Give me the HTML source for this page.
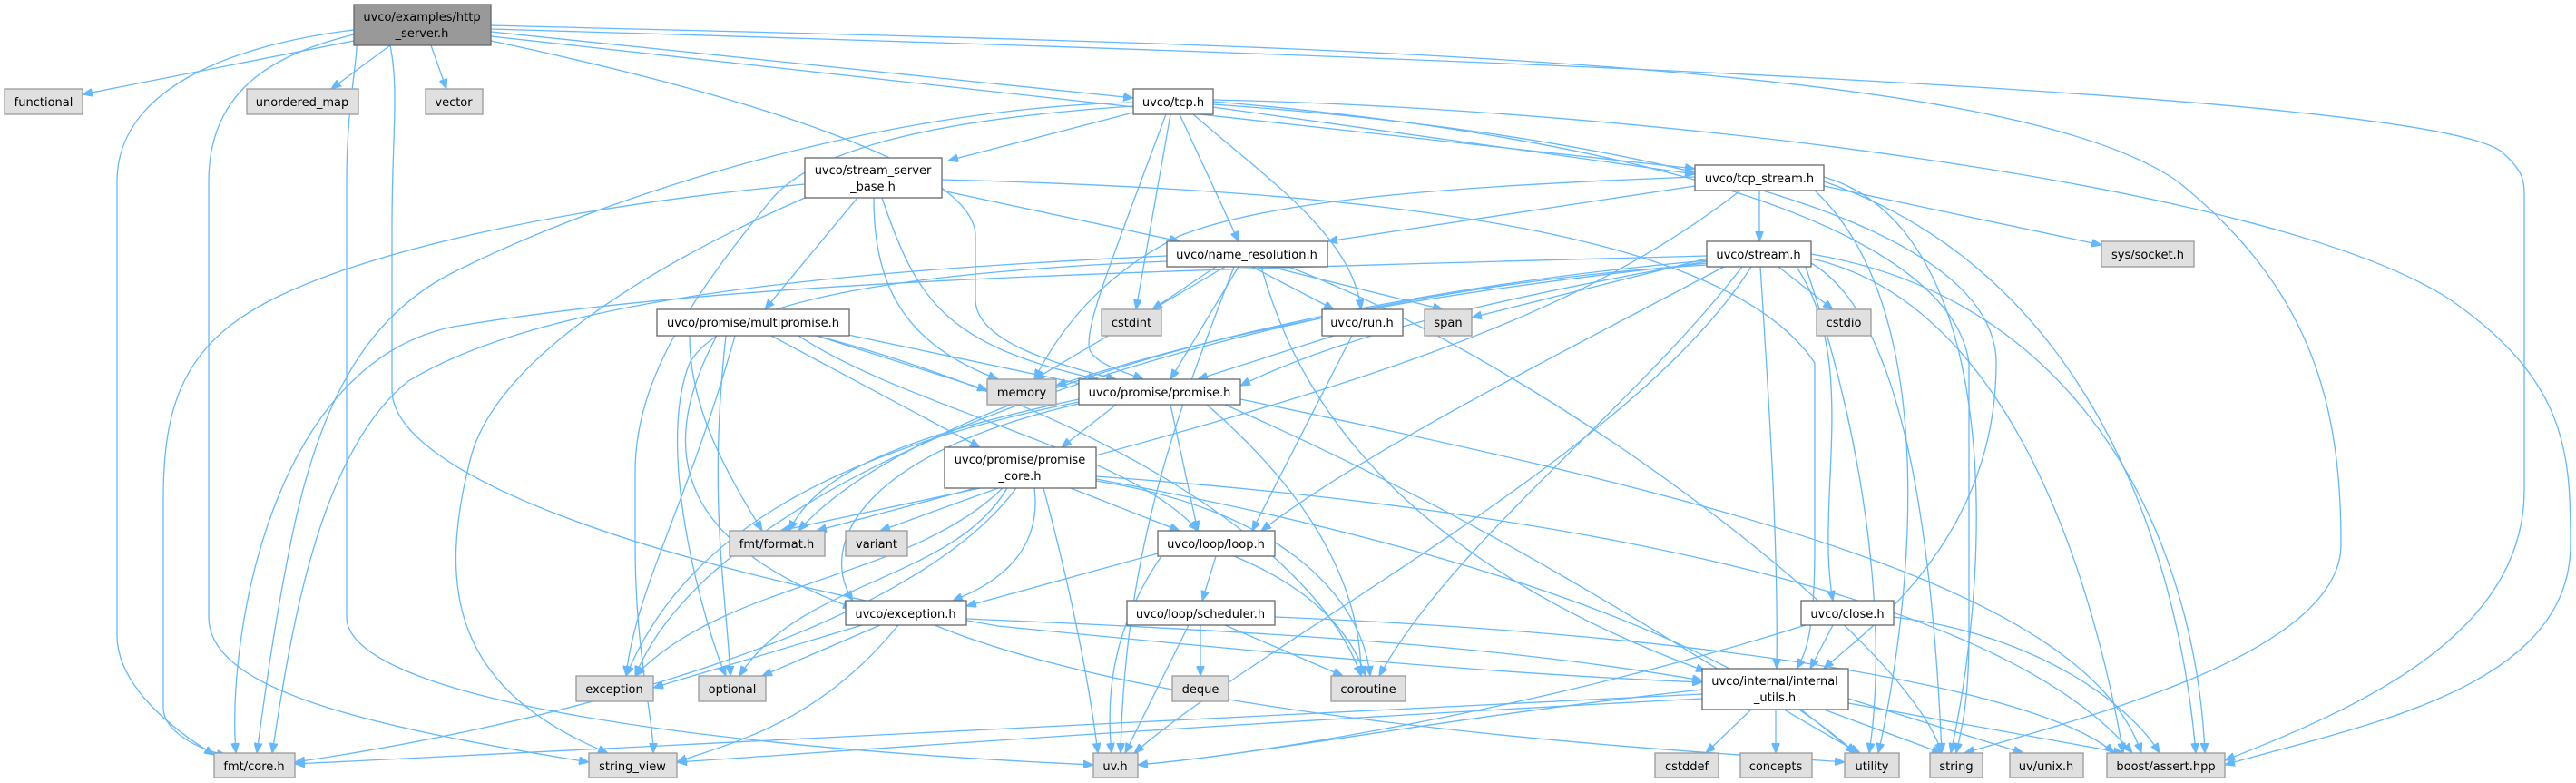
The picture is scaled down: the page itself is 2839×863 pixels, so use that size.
<!DOCTYPE html>
<html><head><meta charset="utf-8"><style>
html,body{margin:0;padding:0;background:#fff}
svg{display:block}
text{font-family:"DejaVu Sans","Liberation Sans",sans-serif;font-size:13px;fill:#000;text-anchor:middle}
.e{fill:none;stroke:#63b8ff;stroke-width:1.3}
.w{fill:#fff;stroke:#666;stroke-width:1.3}
.g{fill:#e0e0e0;stroke:#999;stroke-width:1.3}
.r{fill:#999;stroke:#666;stroke-width:1.3}
</style></head><body>
<svg width="2839" height="863" viewBox="0 0 2839 863" xmlns="http://www.w3.org/2000/svg">
<defs><marker id="a" markerWidth="11" markerHeight="9" refX="11" refY="4.5" orient="auto" markerUnits="userSpaceOnUse"><path d="M0,0 L11,4.5 L0,9z" fill="#63b8ff" stroke="#63b8ff"/></marker></defs>
<g class="e" marker-end="url(#a)">
<path d="M390,45 L91,104"/>
<path d="M430,50 L365,98"/>
<path d="M475,50 L492,98"/>
<path d="M541,35 L1249,108"/>
<path d="M390,33 C250,50 129,100 129,200 L129,700 C129,760 200,810 236,832"/>
<path d="M390,38 C300,60 230,100 230,200 L230,680 C230,760 400,800 649,840"/>
<path d="M390,42 C400,45 382,100 382,200 L382,680 C382,760 700,820 1205,843"/>
<path d="M430,50 C440,100 432,150 432,250 L432,430 C432,520 700,620 1100,690 C1500,730 1700,745 1876,752"/>
<path d="M541,45 C800,100 1075,180 1075,260 L1075,330 C1075,380 1180,405 1230,418"/>
<path d="M541,40 L1868,186"/>
<path d="M541,28 C1400,50 2200,60 2400,200 C2550,320 2580,450 2580,600 C2580,720 2300,790 2165,830"/>
<path d="M541,32 C1500,60 2700,100 2760,170 C2782,190 2782,200 2782,220 L2782,540 C2782,700 2600,780 2452,838"/>
<path d="M1249,124 L1045,177"/>
<path d="M1300,126 L1365,266"/>
<path d="M1290,126 L1252,341"/>
<path d="M1285,126 C1220,300 1200,350 1200,380 C1200,400 1240,410 1260,418"/>
<path d="M1315,126 C1400,200 1490,260 1500,341"/>
<path d="M1337,118 L1868,192"/>
<path d="M1249,113 C1000,118 700,200 500,300 C400,350 350,450 320,600 C300,700 290,780 283,830"/>
<path d="M1249,117 C1050,130 900,160 850,220 C760,330 700,420 700,520 L700,600 C700,720 720,790 720,830"/>
<path d="M1337,110 C1800,120 2500,200 2700,330 C2830,420 2833,500 2833,600 C2833,760 2600,800 2452,843"/>
<path d="M1337,112 C1800,150 2150,250 2170,400 L2170,700 C2170,780 2160,810 2156,830"/>
<path d="M1337,115 C1700,140 2200,220 2200,400 C2200,600 2050,700 2010,737"/>
<path d="M945,218 L843,341"/>
<path d="M963,218 C963,320 1000,380 1100,418"/>
<path d="M972,218 C1010,330 1040,380 1210,418"/>
<path d="M1038,210 L1300,266"/>
<path d="M887,203 C600,230 400,280 300,330 C200,380 180,450 180,550 L180,780 C180,810 230,830 250,832"/>
<path d="M887,218 C700,300 550,400 520,500 C480,650 500,760 670,830"/>
<path d="M1038,198 C1500,210 1900,250 2000,400 L2000,600 C2000,700 1990,720 1980,737"/>
<path d="M1340,294 L1270,341"/>
<path d="M1365,294 L1290,418"/>
<path d="M1380,294 L1470,341"/>
<path d="M1400,294 L1590,341"/>
<path d="M1350,294 L1140,418"/>
<path d="M1420,294 C1700,400 2100,700 2140,830"/>
<path d="M1390,294 C1420,400 1500,600 1880,740"/>
<path d="M1360,294 C1300,450 1240,600 1235,830"/>
<path d="M1286,282 C900,300 600,330 450,420 C350,500 320,700 300,830"/>
<path d="M1286,288 C1000,300 800,330 760,400 C720,500 780,700 800,745"/>
<path d="M1939,210 L1939,266"/>
<path d="M2010,205 L2316,270"/>
<path d="M1868,205 L1463,266"/>
<path d="M1868,195 C1600,205 1400,220 1300,260 C1200,310 1160,380 1140,418"/>
<path d="M1918,210 C1700,380 1400,450 900,585"/>
<path d="M2010,195 C2200,250 2200,600 2150,830"/>
<path d="M2010,200 C2300,300 2400,600 2420,830"/>
<path d="M2000,210 C2150,350 2100,700 2070,830"/>
<path d="M1960,294 L2020,341"/>
<path d="M1881,285 L1622,350"/>
<path d="M1881,290 C1500,330 1300,380 1164,425"/>
<path d="M1881,288 C1700,320 1500,360 1367,425"/>
<path d="M1900,294 C1700,400 1500,500 1390,585"/>
<path d="M1920,294 C1800,450 1600,600 1520,745"/>
<path d="M1930,294 C1800,500 1400,700 1250,830"/>
<path d="M1980,294 C2050,400 2000,550 2020,662"/>
<path d="M1940,294 C1950,450 1960,600 1958,737"/>
<path d="M1881,282 C1200,300 800,310 500,360 C300,400 250,700 260,830"/>
<path d="M1881,292 C1400,320 800,500 700,745"/>
<path d="M1881,287 C1400,330 1000,450 880,585"/>
<path d="M1996,290 C2100,350 2130,600 2140,830"/>
<path d="M1996,285 C2200,330 2300,600 2340,830"/>
<path d="M1996,280 C2300,330 2420,600 2430,830"/>
<path d="M1990,294 C2060,500 2080,700 2060,830"/>
<path d="M1470,370 L1320,418"/>
<path d="M1490,370 L1380,585"/>
<path d="M1230,446 L1170,493"/>
<path d="M1189,440 C1000,480 900,520 870,585"/>
<path d="M1189,445 C950,500 900,600 940,662"/>
<path d="M1189,443 C900,500 750,600 690,745"/>
<path d="M1290,446 L1320,585"/>
<path d="M1330,446 C1450,550 1500,650 1500,745"/>
<path d="M1367,440 C1900,550 2300,650 2360,830"/>
<path d="M1350,446 C1700,600 1900,750 2050,830"/>
<path d="M900,370 L1088,430"/>
<path d="M930,368 L1200,425"/>
<path d="M850,370 L1080,493"/>
<path d="M880,370 C1000,450 1250,500 1320,585"/>
<path d="M900,370 C1200,450 1450,600 1500,745"/>
<path d="M790,370 C720,500 750,600 940,670"/>
<path d="M810,370 C760,550 700,650 690,745"/>
<path d="M800,370 C780,550 800,650 805,745"/>
<path d="M760,370 C760,450 800,520 840,585"/>
<path d="M1080,538 L860,585"/>
<path d="M1100,538 L970,585"/>
<path d="M1180,538 L1300,585"/>
<path d="M1140,538 C1150,620 1080,650 1050,662"/>
<path d="M1105,538 C1000,640 800,640 700,745"/>
<path d="M1110,538 C1050,640 880,640 815,745"/>
<path d="M1150,538 C1180,650 1200,750 1210,830"/>
<path d="M1120,538 C1000,700 600,800 325,840"/>
<path d="M1208,530 C1400,560 1500,650 1510,745"/>
<path d="M1208,525 C1700,560 2200,650 2350,830"/>
<path d="M1208,528 C1600,600 1900,700 2045,830"/>
<path d="M1340,613 L1325,662"/>
<path d="M1276,610 L1065,668"/>
<path d="M1280,613 C1220,700 1220,780 1225,830"/>
<path d="M1360,613 C1450,650 1490,700 1505,745"/>
<path d="M950,689 L720,758"/>
<path d="M970,689 L840,745"/>
<path d="M990,689 C900,800 800,820 746,840"/>
<path d="M1065,682 C1500,700 1700,720 1876,750"/>
<path d="M1030,689 C1300,800 1900,830 2033,840"/>
<path d="M1323,689 L1323,745"/>
<path d="M1310,689 L1240,830"/>
<path d="M1350,689 L1480,745"/>
<path d="M1405,680 C1900,700 2250,760 2330,830"/>
<path d="M2020,689 L1995,737"/>
<path d="M1990,689 C1700,780 1400,830 1254,843"/>
<path d="M2087,680 C2250,700 2350,780 2380,830"/>
<path d="M1930,782 L1880,830"/>
<path d="M1957,782 L1957,830"/>
<path d="M1985,782 L2045,830"/>
<path d="M2010,782 L2140,830"/>
<path d="M2037,770 L2230,830"/>
<path d="M2037,775 L2340,830"/>
<path d="M1876,760 C1600,790 1400,830 1254,843"/>
<path d="M1876,765 C1200,800 600,830 325,842"/>
<path d="M1876,770 C1300,800 900,830 746,840"/>
</g>
<rect class="r" x="390" y="5" width="151" height="45"/><text x="465" y="23">uvco/examples/http</text><text x="465" y="41">_server.h</text>
<rect class="g" x="5" y="98" width="86" height="28"/><text x="48" y="117">functional</text>
<rect class="g" x="272" y="98" width="123" height="28"/><text x="333" y="117">unordered_map</text>
<rect class="g" x="469" y="98" width="63" height="28"/><text x="500" y="117">vector</text>
<rect class="w" x="1249" y="98" width="88" height="28"/><text x="1293" y="117">uvco/tcp.h</text>
<rect class="w" x="887" y="174" width="151" height="44"/><text x="962" y="192">uvco/stream_server</text><text x="962" y="210">_base.h</text>
<rect class="w" x="1286" y="266" width="177" height="28"/><text x="1374" y="285">uvco/name_resolution.h</text>
<rect class="w" x="1868" y="182" width="142" height="28"/><text x="1939" y="201">uvco/tcp_stream.h</text>
<rect class="w" x="1881" y="266" width="115" height="28"/><text x="1938" y="285">uvco/stream.h</text>
<rect class="g" x="2316" y="266" width="102" height="28"/><text x="2367" y="285">sys/socket.h</text>
<rect class="w" x="724" y="341" width="212" height="29"/><text x="830" y="360">uvco/promise/multipromise.h</text>
<rect class="g" x="1214" y="341" width="66" height="29"/><text x="1247" y="360">cstdint</text>
<rect class="w" x="1457" y="341" width="89" height="29"/><text x="1501" y="360">uvco/run.h</text>
<rect class="g" x="1570" y="341" width="52" height="29"/><text x="1596" y="360">span</text>
<rect class="g" x="2002" y="341" width="60" height="29"/><text x="2032" y="360">cstdio</text>
<rect class="g" x="1088" y="418" width="76" height="28"/><text x="1126" y="437">memory</text>
<rect class="w" x="1189" y="418" width="178" height="28"/><text x="1278" y="437">uvco/promise/promise.h</text>
<rect class="w" x="1041" y="493" width="167" height="45"/><text x="1124" y="511">uvco/promise/promise</text><text x="1124" y="529">_core.h</text>
<rect class="g" x="804" y="585" width="105" height="28"/><text x="856" y="604">fmt/format.h</text>
<rect class="g" x="932" y="585" width="68" height="28"/><text x="966" y="604">variant</text>
<rect class="w" x="1276" y="585" width="129" height="28"/><text x="1340" y="604">uvco/loop/loop.h</text>
<rect class="w" x="932" y="662" width="133" height="27"/><text x="998" y="681">uvco/exception.h</text>
<rect class="w" x="1242" y="662" width="163" height="27"/><text x="1323" y="681">uvco/loop/scheduler.h</text>
<rect class="w" x="1985" y="662" width="102" height="27"/><text x="2036" y="681">uvco/close.h</text>
<rect class="g" x="635" y="745" width="85" height="28"/><text x="677" y="764">exception</text>
<rect class="g" x="770" y="745" width="74" height="28"/><text x="807" y="764">optional</text>
<rect class="g" x="1292" y="745" width="62" height="28"/><text x="1323" y="764">deque</text>
<rect class="g" x="1467" y="745" width="82" height="28"/><text x="1508" y="764">coroutine</text>
<rect class="w" x="1876" y="737" width="161" height="45"/><text x="1956" y="755">uvco/internal/internal</text><text x="1956" y="773">_utils.h</text>
<rect class="g" x="236" y="830" width="89" height="27"/><text x="280" y="849">fmt/core.h</text>
<rect class="g" x="649" y="830" width="97" height="27"/><text x="697" y="849">string_view</text>
<rect class="g" x="1205" y="830" width="49" height="27"/><text x="1229" y="849">uv.h</text>
<rect class="g" x="1824" y="830" width="70" height="27"/><text x="1859" y="849">cstddef</text>
<rect class="g" x="1918" y="830" width="79" height="27"/><text x="1957" y="849">concepts</text>
<rect class="g" x="2033" y="830" width="60" height="27"/><text x="2063" y="849">utility</text>
<rect class="g" x="2127" y="830" width="58" height="27"/><text x="2156" y="849">string</text>
<rect class="g" x="2215" y="830" width="81" height="27"/><text x="2255" y="849">uv/unix.h</text>
<rect class="g" x="2322" y="830" width="130" height="27"/><text x="2387" y="849">boost/assert.hpp</text>
</svg>
</body></html>
